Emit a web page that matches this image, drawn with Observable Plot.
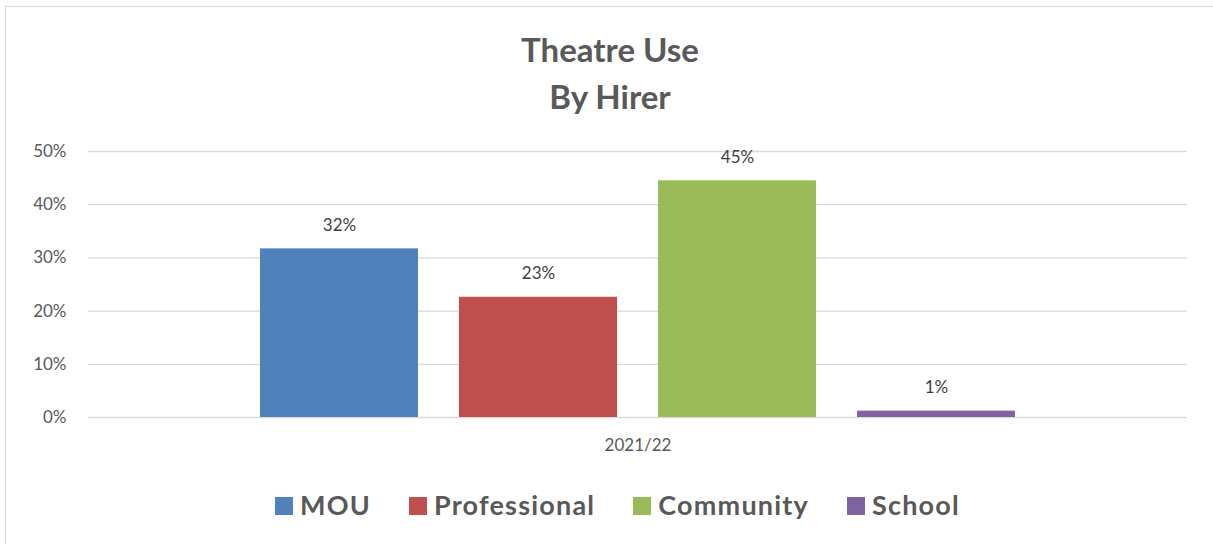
<!DOCTYPE html>
<html>
<head>
<meta charset="utf-8">
<script src="https://cdn.jsdelivr.net/npm/d3@7"></script>
<script src="https://cdn.jsdelivr.net/npm/@observablehq/plot@0.6"></script>
<style>
  html, body { margin: 0; padding: 0; background: #fff; }
  body { width: 1213px; height: 544px; position: relative; overflow: hidden; font-family: Lato, "Open Sans", sans-serif; }
  #frame { position: absolute; left: 5px; top: 6px; width: 1300px; height: 600px; border: 1px solid #d9d9d9; box-sizing: border-box; }
  #title { position: absolute; left: 0; top: 26px; width: 1220px; text-align: center; font-weight: 700; font-size: 33px; line-height: 47px; color: #595959; }
  #chart { position: absolute; left: 0; top: 130px; }
  #legend { position: absolute; left: 0; top: 488px; width: 1235px; display: flex; justify-content: center; gap: 38px; font-weight: 700; font-size: 27px; letter-spacing: 1.2px; color: #595959; }
  .item { display: flex; align-items: baseline; gap: 7px; }
  .sw { display: inline-block; width: 18px; height: 18px; }
</style>
</head>
<body>
<div id="frame"></div>
<div id="title"></div>
<div id="chart"></div>
<div id="legend"></div>
<script>
const titleLines = ["Theatre Use", "By Hirer"];
const year = "2021/22";
const hirers = ["MOU", "Professional", "Community", "School"];
const values = [31.7, 22.6, 44.5, 1.2];
const colors = ["#4f81bd", "#c0504d", "#9bbb59", "#8064a2"];
const yTicks = [0, 10, 20, 30, 40, 50];

const data = hirers.map((h, i) => ({year, hirer: h, value: values[i]}));

document.getElementById("title").innerHTML = titleLines.join("<br>");

const chart = Plot.plot({
  width: 1213,
  height: 340,
  marginLeft: 88,
  marginRight: 26,
  marginTop: 21,
  marginBottom: 53,
  style: {fontFamily: "Lato, sans-serif", fontSize: "17px", color: "#595959", background: "transparent"},
  fx: {domain: [year], padding: 0, label: null, axis: "bottom", tickSize: 0, tickPadding: 21},
  x: {domain: hirers, axis: null, paddingInner: 0.208, paddingOuter: 0.858},
  y: {domain: [0, 50], ticks: yTicks, tickFormat: d => d + "%", tickSize: 0, tickPadding: 22, label: null},
  color: {domain: hirers, range: colors},
  marks: [
    Plot.gridY(yTicks, {stroke: "#d9d9d9", strokeOpacity: 1, strokeWidth: 1.3}),
    Plot.barY(data, {fx: "year", x: "hirer", y: "value", fill: "hirer"}),
    Plot.text(data, {fx: "year", x: "hirer", y: "value", text: d => Math.round(d.value) + "%", dy: -18, lineAnchor: "bottom", fill: "#404040", fontSize: 17})
  ]
});
document.getElementById("chart").appendChild(chart);

const legend = d3.select("#legend");
hirers.forEach((h, i) => {
  const it = legend.append("div").attr("class", "item");
  it.append("span").attr("class", "sw").style("background", colors[i]);
  it.append("span").text(h);
});
</script>
</body>
</html>
